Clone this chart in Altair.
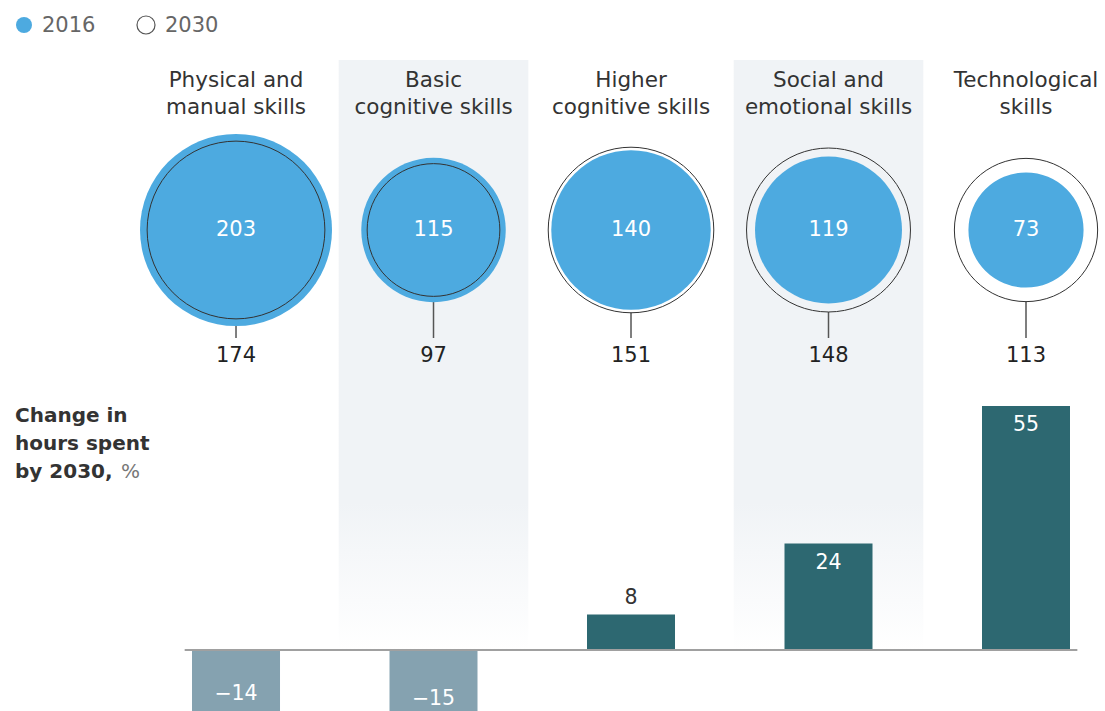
import altair as alt
import pandas as pd

# ---------------- data ----------------
titles = [
    "Physical and\nmanual skills",
    "Basic\ncognitive skills",
    "Higher\ncognitive skills",
    "Social and\nemotional skills",
    "Technological\nskills",
]
hours_2016 = [203, 115, 140, 119, 73]
hours_2030 = [174, 97, 151, 148, 113]
change_pct = [-14, -15, 8, 24, 55]
legend_labels = ["2016", "2030"]
side_label = "Change in\nhours spent\nby 2030,"
side_unit = "%"

# ---------------- styles ----------------
FONT = "DejaVu Sans"
BLUE = "#4DAAE0"
POS = "#2D6871"
NEG = "#85A2B0"
SHADE = "#F0F3F6"

df = pd.DataFrame({
    "i": list(range(len(titles))),
    "title": titles,
    "h2016": hours_2016,
    "h2030": hours_2030,
    "change": change_pct,
})

xs = alt.Scale(domain=[-1.195, 4.4], nice=False, zero=False, padding=0)
X = alt.X("i:Q", scale=xs, axis=None)
ys = alt.Scale(domain=[-13.75, 146.5], nice=False, zero=False, padding=0)
# vega circle symbol: diameter = sqrt(size); 203 -> diameter 192
ss = alt.Scale(type="linear", domain=[0, 203], range=[0, 36864])

base = alt.Chart(df)

shade_grad = {
    "gradient": "linear",
    "x1": 0, "y1": 0, "x2": 0, "y2": 1,
    "stops": [
        {"offset": 0, "color": SHADE},
        {"offset": 0.75, "color": SHADE},
        {"offset": 1, "color": "#FFFFFF"},
    ],
}

bands = base.transform_filter("datum.i % 2 == 1").transform_calculate(
    xa="datum.i - 0.48", xb="datum.i + 0.48"
).mark_rect(fill=shade_grad, strokeWidth=0).encode(
    x=alt.X("xa:Q", scale=xs, axis=None),
    x2="xb:Q",
    y=alt.value(60),
    y2=alt.value(650),
)

col_titles = base.mark_text(
    font=FONT, fontSize=21.5, color="#333333", lineBreak="\n", lineHeight=27,
    baseline="middle", align="center",
).encode(x=X, y=alt.value(81), text="title:N")

stems = base.mark_rule(color="#555555", strokeWidth=1.5).encode(
    x=X, y=alt.value(230), y2=alt.value(338)
)

bg2030 = base.mark_circle(opacity=1).encode(
    x=X, y=alt.value(230),
    size=alt.Size("h2030:Q", scale=ss, legend=None),
    color=alt.condition("datum.i % 2 == 1", alt.value(SHADE), alt.value("white")),
)

c2016 = base.mark_circle(opacity=1, color=BLUE).encode(
    x=X, y=alt.value(230),
    size=alt.Size("h2016:Q", scale=ss, legend=None),
)

o2030 = base.mark_point(shape="circle", filled=False, opacity=1, color="#333333", strokeWidth=1).encode(
    x=X, y=alt.value(230),
    size=alt.Size("h2030:Q", scale=ss, legend=None),
)

t2016 = base.mark_text(font=FONT, fontSize=21, color="white", baseline="middle").encode(
    x=X, y=alt.value(230), text="h2016:Q"
)
t2030 = base.mark_text(font=FONT, fontSize=21, color="#222222", baseline="middle").encode(
    x=X, y=alt.value(356), text="h2030:Q"
)

bars = base.mark_bar(size=88).encode(
    x=X,
    y=alt.Y("change:Q", scale=ys, axis=None),
    y2=alt.datum(0),
    color=alt.condition("datum.change < 0", alt.value(NEG), alt.value(POS)),
)

baseline = alt.Chart(pd.DataFrame({"v": [0]})).transform_calculate(
    xa="-0.26", xb="4.26"
).mark_rule(color="#A0A0A0", strokeWidth=2).encode(
    x=alt.X("xa:Q", scale=xs, axis=None), x2="xb:Q",
    y=alt.Y("v:Q", scale=ys, axis=None),
)

lbl = base.transform_calculate(lbl="replace(toString(datum.change), '-', '\u2212')")
lab_in_pos = lbl.transform_filter("datum.change >= 15").mark_text(
    font=FONT, fontSize=20.5, color="white", baseline="middle", dy=19
).encode(x=X, y=alt.Y("change:Q", scale=ys, axis=None), text="lbl:N")
lab_above = lbl.transform_filter("datum.change > 0 && datum.change < 15").mark_text(
    font=FONT, fontSize=20.5, color="#333333", baseline="middle", dy=-16
).encode(x=X, y=alt.Y("change:Q", scale=ys, axis=None), text="lbl:N")
lab_in_neg = lbl.transform_filter("datum.change < 0").mark_text(
    font=FONT, fontSize=20.5, color="white", baseline="middle", dy=-18
).encode(x=X, y=alt.Y("change:Q", scale=ys, axis=None), text="lbl:N")

side = alt.Chart(pd.DataFrame({"t": [side_label]})).mark_text(
    font=FONT, fontSize=20, fontWeight="bold", color="#333333", lineBreak="\n",
    lineHeight=28, align="left", baseline="middle",
).encode(x=alt.value(15), y=alt.value(416), text="t:N")
side_pct = alt.Chart(pd.DataFrame({"t": [side_unit]})).mark_text(
    font=FONT, fontSize=20, color="#777777", align="left", baseline="middle",
).encode(x=alt.value(121), y=alt.value(472), text="t:N")

leg_df = pd.DataFrame({"t": legend_labels})
leg_dot1 = alt.Chart(leg_df).transform_filter("datum.t == '2016'").mark_circle(
    color=BLUE, opacity=1, size=256
).encode(x=alt.value(24), y=alt.value(25))
leg_dot2 = alt.Chart(leg_df).transform_filter("datum.t == '2030'").mark_point(
    shape="circle", filled=False, color="#555555", opacity=1, size=324, strokeWidth=1.2
).encode(x=alt.value(146), y=alt.value(25))
leg_t1 = alt.Chart(leg_df).transform_filter("datum.t == '2016'").mark_text(
    font=FONT, fontSize=21, color="#666666", align="left", baseline="middle"
).encode(x=alt.value(42), y=alt.value(26), text="t:N")
leg_t2 = alt.Chart(leg_df).transform_filter("datum.t == '2030'").mark_text(
    font=FONT, fontSize=21, color="#666666", align="left", baseline="middle"
).encode(x=alt.value(165), y=alt.value(26), text="t:N")

chart = alt.layer(
    bands, col_titles, stems, bg2030, c2016, o2030, t2016, t2030,
    bars, baseline, lab_in_pos, lab_above, lab_in_neg,
    side, side_pct, leg_dot1, leg_dot2, leg_t1, leg_t2,
).properties(
    width=1105, height=711, padding=0,
    autosize=alt.AutoSizeParams(type="none"),
    background="white",
).configure_view(stroke=None)

chart.save("out.html", embed_options={"renderer": "svg", "actions": False})
